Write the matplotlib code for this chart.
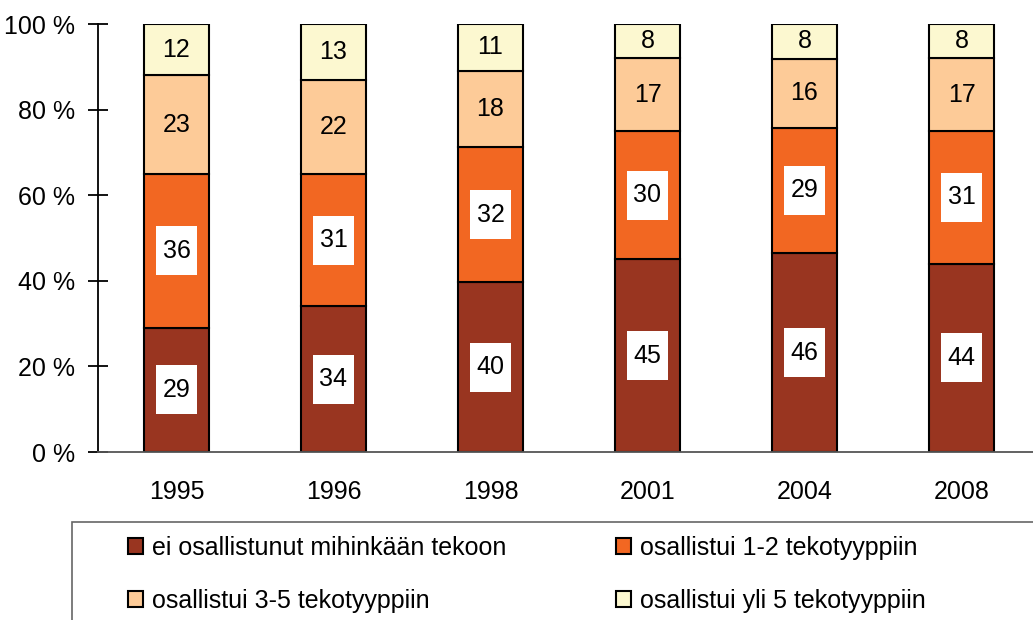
import matplotlib
matplotlib.use("Agg")
import matplotlib.pyplot as plt
from matplotlib.path import Path
from matplotlib.patches import Rectangle
import numpy as np

years = ["1995", "1996", "1998", "2001", "2004", "2008"]
ei_osallistunut = [29, 34, 40, 45, 46, 44]
osallistui_1_2 = [36, 31, 32, 30, 29, 31]
osallistui_3_5 = [23, 22, 18, 17, 16, 17]
osallistui_yli_5 = [12, 13, 11, 8, 8, 8]
series_names = ["ei osallistunut mihinkään tekoon", "osallistui 1-2 tekotyyppiin",
                "osallistui 3-5 tekotyyppiin", "osallistui yli 5 tekotyyppiin"]
colors = ["#993520", "#F26722", "#FDCB98", "#FCF8D0"]
boxed = [True, True, False, False]
yticks = [0, 20, 40, 60, 80, 100]

plt.rcParams['font.family'] = ['Liberation Sans', 'DejaVu Sans']
FS = 18

fig = plt.figure(figsize=(10.33, 6.2), dpi=100)
W, H = 1033, 620
ax = fig.add_axes([98 / W, 1 - 452 / H, 942 / W, 428 / H])

series = [ei_osallistunut, osallistui_1_2, osallistui_3_5, osallistui_yli_5]
data = np.array(series, dtype=float)
totals = data.sum(axis=0)
pct = data / totals * 100
x = np.arange(len(years))


def tallbox(x0, y0, width, height, mutation_size):
    px = 0.25 * mutation_size
    py = 0.5 * mutation_size
    xa, xb = x0 - px, x0 + width + px
    ya, yb = y0 - py, y0 + height + py
    return Path([(xa, ya), (xb, ya), (xb, yb), (xa, yb), (xa, ya)],
                [Path.MOVETO, Path.LINETO, Path.LINETO, Path.LINETO, Path.CLOSEPOLY])


bottom = np.zeros(len(years))
handles = []
for i, (vals, p) in enumerate(zip(series, pct)):
    bars = ax.bar(x, p, width=0.42, bottom=bottom, color=colors[i],
                  edgecolor="black", linewidth=1.5, label=series_names[i], zorder=2)
    handles.append(bars)
    for xi, b, h, v in zip(x, bottom, p, vals):
        kw = {}
        if boxed[i]:
            kw['bbox'] = dict(boxstyle=tallbox, facecolor="white", edgecolor="none")
        ax.text(xi, b + h / 2, str(v), ha="center", va="center", fontsize=FS,
                color="black", zorder=3, **kw)
    bottom = bottom + p

ax.set_xlim(-0.5, len(years) - 0.5)
ax.set_ylim(0, 100)
ax.set_yticks(yticks)
ax.set_yticklabels([f"{t} %" for t in yticks])
ax.set_xticks(x)
ax.set_xticklabels(years)
ax.tick_params(axis="y", direction="inout", length=15, width=1.3, labelsize=FS, pad=9)
ax.tick_params(axis="x", length=0, labelsize=FS, pad=20)
for s in ["top", "right"]:
    ax.spines[s].set_visible(False)
ax.spines["left"].set_linewidth(1.3)
ax.spines["bottom"].set_linewidth(1.3)
ax.spines["bottom"].set_color("#555555")

# legend frame
fig.patches.append(Rectangle((72 / W, -0.1), 1.2, 1 - 522 / H + 0.1,
                             transform=fig.transFigure, facecolor="white",
                             edgecolor="#666666", linewidth=1.2))

leg_kw = dict(frameon=False, fontsize=FS, handlelength=0.6, handleheight=0.6,
              handletextpad=0.36, labelspacing=1.15, borderpad=0, borderaxespad=0,
              loc="upper left")
l1 = fig.legend([handles[0], handles[2]], [series_names[0], series_names[2]],
                bbox_to_anchor=(128 / W, 1 - 536 / H), **leg_kw)
l2 = fig.legend([handles[1], handles[3]], [series_names[1], series_names[3]],
                bbox_to_anchor=(616 / W, 1 - 536 / H), **leg_kw)

fig.savefig("out.png", dpi=100)
